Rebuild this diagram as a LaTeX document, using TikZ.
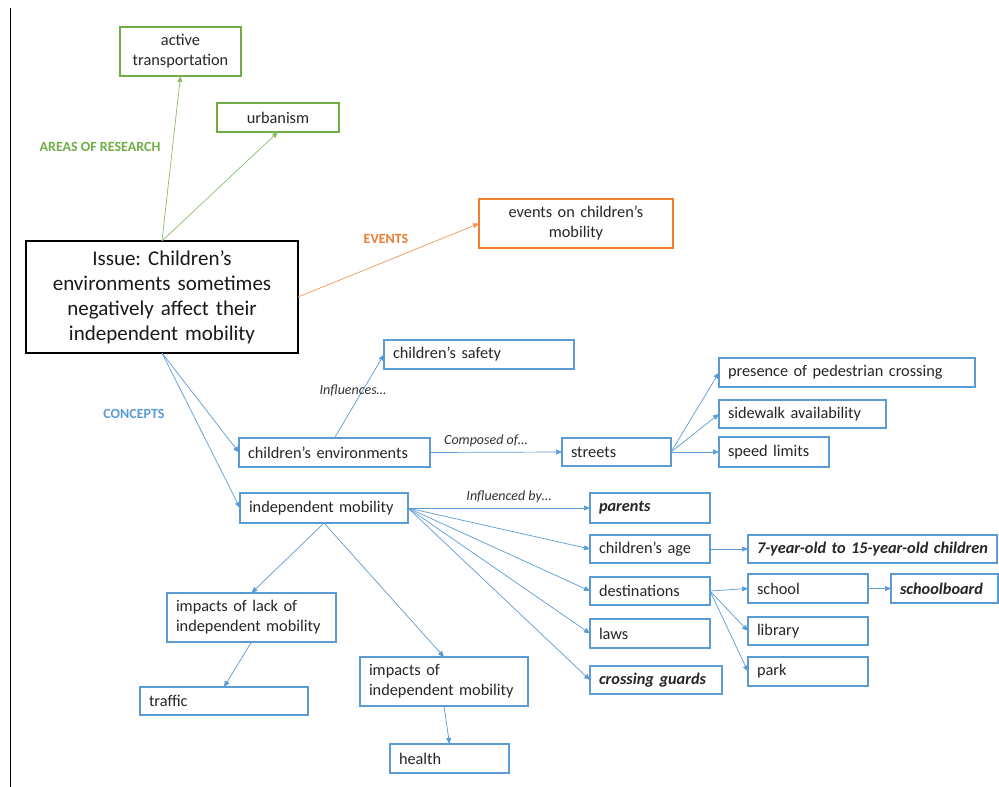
\documentclass[tikz,border=0pt]{standalone}
\usepackage{fontspec}
\setmainfont{Carlito}
\usetikzlibrary{arrows.meta}
\frenchspacing

\definecolor{resgreen}{HTML}{70AD47}
\definecolor{evorange}{HTML}{ED7D31}
\definecolor{conblue}{HTML}{5B9BD5}

% A box given by its corners (x1,y1)-(x2,y2) in a y-down frame
\newcommand\mapbox[7]{%
  \pgfmathsetmacro\mbw{#4-#2}%
  \pgfmathsetmacro\mbh{#5-#3}%
  \pgfmathsetmacro\mbt{#4-#2-18}%
  \node[#6, anchor=north west, minimum width=\mbw pt, minimum height=\mbh pt,
        text width=\mbt pt] (#1) at (#2,#3) {#7};}

\tikzset{
  x=1pt, y=-1pt,
  boxbase/.style={draw, rectangle, inner xsep=9pt, inner ysep=0pt, outer sep=0pt,
                  font=\fontsize{16.3}{20}\selectfont, text=black!85},
  greenbox/.style={boxbase, draw=resgreen, line width=1.2pt, align=center},
  orangebox/.style={boxbase, draw=evorange, line width=1.2pt, align=center},
  bluebox/.style={boxbase, draw=conblue, line width=1.2pt, align=left},
  bluebold/.style={bluebox, font=\fontsize{16.3}{20}\selectfont\bfseries\itshape},
  issuebox/.style={draw=black, line width=2.6pt, rectangle, inner xsep=6pt,
                   inner ysep=0pt, outer sep=0pt, align=center,
                   font=\fontsize{21}{25}\selectfont, text=black!90},
  link/.style={line width=0.7pt, -{Triangle[length=6pt,width=5pt]}},
  greenlink/.style={link, draw=resgreen!80},
  orangelink/.style={link, draw=evorange!80},
  bluelink/.style={link, draw=conblue},
  catlabel/.style={font=\fontsize{14}{16}\selectfont\bfseries},
  edgelabel/.style={font=\fontsize{14}{16}\selectfont\itshape, text=black!80},
}

\begin{document}
\begin{tikzpicture}
\useasboundingbox (0,0) rectangle (999,787);
\fill[white] (0,0) rectangle (999,787);
\draw[line width=1.5pt, black] (10.5,8) -- (10.5,787);

% central issue
\mapbox{issue}{26}{241}{298}{353}{issuebox}{Issue: Children’s\\environments sometimes\\negatively affect their\\independent mobility}

% areas of research
\mapbox{act}{120}{27}{241}{76}{greenbox}{active\\transportation}
\mapbox{urb}{217}{103}{339}{132}{greenbox}{urbanism}
\node[catlabel, text=resgreen] (arealbl) at (100,147) {AREAS OF RESEARCH};

% events
\mapbox{events}{479}{199}{673}{248}{orangebox}{events on children’s\\mobility}
\node[catlabel, text=evorange] (evlbl) at (386,239) {EVENTS};

% concepts
\node[catlabel, text=conblue] (conlbl) at (134,414) {CONCEPTS};
\mapbox{cenv}{239}{438}{430}{467}{bluebox}{children’s environments}
\mapbox{safety}{384}{340}{574}{369}{bluebox}{children’s safety}
\mapbox{streets}{562}{438}{671}{466}{bluebox}{streets}
\mapbox{pres}{719}{358}{975}{387}{bluebox}{presence of pedestrian crossing}
\mapbox{side}{719}{400}{886}{428}{bluebox}{sidewalk availability}
\mapbox{speed}{719}{437}{829}{467}{bluebox}{speed limits}

\mapbox{im}{240}{493}{408}{523}{bluebox}{independent mobility}
\mapbox{parents}{590}{493}{710}{523}{bluebold}{parents}
\mapbox{age}{590}{535}{710}{563}{bluebox}{children’s age}
\mapbox{dest}{590}{577}{710}{605}{bluebox}{destinations}
\mapbox{laws}{590}{619}{710}{648}{bluebox}{laws}
\mapbox{guards}{590}{666}{722}{694}{bluebold}{crossing guards}

\mapbox{seven}{748}{535}{997}{563}{bluebold}{\mbox{7-year-old to 15-year-old children}}
\mapbox{school}{748}{574}{868}{603}{bluebox}{school}
\mapbox{board}{891}{574}{998}{603}{bluebold}{\mbox{schoolboard}}
\mapbox{lib}{748}{617}{868}{645}{bluebox}{library}
\mapbox{park}{748}{657}{868}{686}{bluebox}{park}

\mapbox{lack}{167}{593}{336}{642}{bluebox}{impacts of lack of\\independent mobility}
\mapbox{traffic}{140}{687}{308}{715}{bluebox}{traffic}
\mapbox{imp}{360}{657}{528}{706}{bluebox}{impacts of\\independent mobility}
\mapbox{health}{390}{744}{509}{773}{bluebox}{health}

% connectors
\draw[greenlink] (issue.north) -- (act.south);
\draw[greenlink] (issue.north) -- (urb.south);
\draw[orangelink] (issue.east) -- (events.west);

\draw[bluelink] (issue.south) -- (cenv.west);
\draw[bluelink] (issue.south) -- (im.west);

\draw[bluelink] (cenv.north) -- (safety.west);
\node[edgelabel] (inflbl) at (353,391) {Influences…};
\draw[bluelink] (cenv.east) -- (streets.west);
\node[edgelabel] (complbl) at (486,441) {Composed of…};

\draw[bluelink] (streets.east) -- (pres.west);
\draw[bluelink] (streets.east) -- (side.west);
\draw[bluelink] (streets.east) -- (speed.west);

\draw[bluelink] (im.east) -- (parents.west);
\node[edgelabel] (inflbylbl) at (509,497) {Influenced by…};
\draw[bluelink] (im.east) -- (age.west);
\draw[bluelink] (im.east) -- (dest.west);
\draw[bluelink] (im.east) -- (laws.west);
\draw[bluelink] (im.east) -- (guards.west);

\draw[bluelink] (age.east) -- (seven.west);
\draw[bluelink] (dest.east) -- (school.west);
\draw[bluelink] (dest.east) -- (lib.west);
\draw[bluelink] (dest.east) -- (park.west);
\draw[bluelink] (school.east) -- (board.west);

\draw[bluelink] (im.south) -- (lack.north);
\draw[bluelink] (im.south) -- (imp.north);
\draw[bluelink] (lack.south) -- (traffic.north);
\draw[bluelink] (imp.south) -- (health.north);
\end{tikzpicture}
\end{document}
